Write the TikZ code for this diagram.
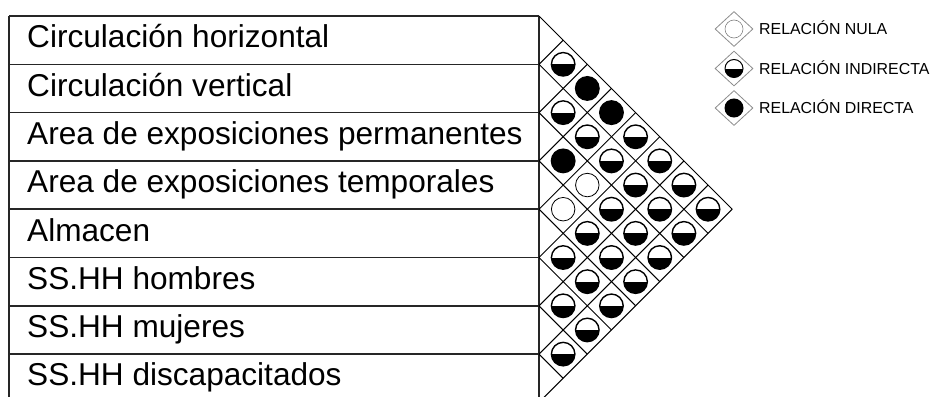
\documentclass[tikz,border=0pt]{standalone}
\usepackage{fontspec}
\setmainfont{Liberation Sans}
\usetikzlibrary{shapes.geometric}
\begin{document}
\begin{tikzpicture}[x=1pt,y=-1pt,
  tbl/.style={line width=1.6pt, draw=black!85},
  gridln/.style={line width=1pt, draw=black},
  lbl/.style={anchor=base west, inner sep=0pt, font=\fontsize{31.6}{36}\selectfont},
  leglbl/.style={anchor=base west, inner sep=0pt, font=\fontsize{15.9}{18}\selectfont},
  cell/.style={circle, draw=black, line width=1.4pt, minimum size=23.5pt, inner sep=0pt},
  halfc/.style={cell, fill=white, path picture={\fill[black] (path picture bounding box.west) rectangle (path picture bounding box.south east);}},
  fullc/.style={cell, fill=black},
  nullc/.style={cell, fill=white, line width=0.8pt},
  legdia/.style={diamond, draw=black!45, line width=0.8pt, minimum width=38pt, minimum height=35pt, inner sep=0pt},
  legcell/.style={circle, draw=black, line width=1pt, minimum size=18pt, inner sep=0pt}
]
\useasboundingbox (0,0) rectangle (936,396);
\clip (0,0) rectangle (936,396);
\def\h{48.3}
% left points of the grid
\foreach \k in {0,...,8} \coordinate (L\k) at (539,{16+\k*\h});
% table
\foreach \k in {0,...,8} \draw[tbl] (9,{16+\k*\h}) -- (L\k);
\draw[tbl] (9,16) -- (9,420);
\draw[tbl] (L0) -- (539,420);
% labels
\foreach \k/\t in {0/Circulación horizontal,1/Circulación vertical,2/Area de exposiciones permanentes,3/Area de exposiciones temporales,4/Almacen,5/SS.HH hombres,6/SS.HH mujeres,7/SS.HH discapacitados}
  \node[lbl] (r\k) at (27,{16+\k*\h+31.8}) {\t};
% diagonal grid
\foreach \k in {0,...,7} \draw[gridln] (L\k) -- ++({(8-\k)*\h/2},{(8-\k)*\h/2});
\foreach \k in {1,...,8} \draw[gridln] (L\k) -- ++({\k*\h/2},{-\k*\h/2});
% cells
\foreach \i/\j/\s in {0/1/halfc,0/2/fullc,0/3/fullc,0/4/halfc,0/5/halfc,0/6/halfc,0/7/halfc,
  1/2/halfc,1/3/halfc,1/4/halfc,1/5/halfc,1/6/halfc,1/7/halfc,
  2/3/fullc,2/4/nullc,2/5/halfc,2/6/halfc,2/7/halfc,
  3/4/nullc,3/5/halfc,3/6/halfc,3/7/halfc,
  4/5/halfc,4/6/halfc,4/7/halfc,
  5/6/halfc,5/7/halfc,
  6/7/halfc}
  \node[\s] (c\i\j) at ({539+(\j-\i)*\h/2},{16+(\i+\j+1)*\h/2}) {};
% legend
\node[legdia] (ld1) at (734,29) {};
\node[legdia] (ld2) at (734,68.5) {};
\node[legdia] (ld3) at (734,108) {};
\node[legcell, draw=black!50, line width=0.6pt] (lc1) at (ld1.center) {};
\node[legcell, path picture={\fill[black] (path picture bounding box.west) rectangle (path picture bounding box.south east);}] (lc2) at (ld2.center) {};
\node[legcell, fill=black] (lc3) at (ld3.center) {};
\node[leglbl] (lt1) at (759,{29+5.8}) {RELACIÓN NULA};
\node[leglbl] (lt2) at (759,{68.5+5.8}) {RELACIÓN INDIRECTA};
\node[leglbl] (lt3) at (759,{108+5.8}) {RELACIÓN DIRECTA};
\end{tikzpicture}
\end{document}
